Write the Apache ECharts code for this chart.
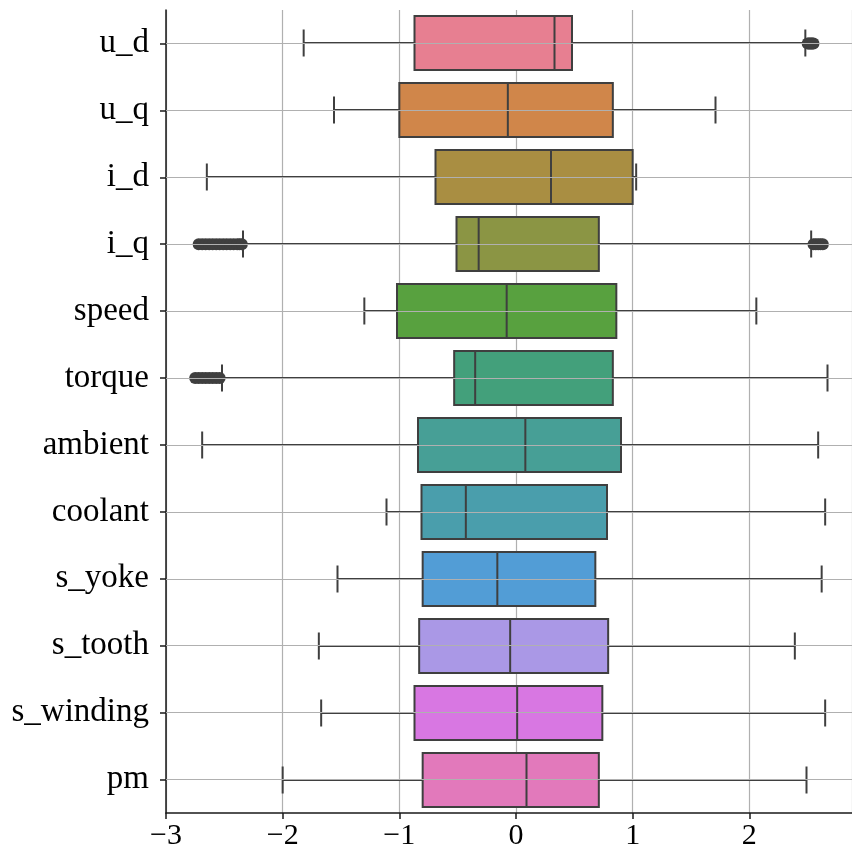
<!DOCTYPE html>
<html><head><meta charset="utf-8">
<script src="https://cdn.jsdelivr.net/npm/echarts@6/dist/echarts.min.js"></script>
<style>html,body{margin:0;padding:0;background:#fff}#c{width:852px;height:855px}</style>
</head><body><div id="c"></div>
<script>
const categories = ['u_d','u_q','i_d','i_q','speed','torque','ambient','coolant','s_yoke','s_tooth','s_winding','pm'];
const whiskerLow  = [-1.82, -1.56, -2.65, -2.34, -1.30, -2.52, -2.69, -1.11, -1.53, -1.69, -1.67, -2.00];
const q1          = [-0.87, -1.00, -0.69, -0.51, -1.02, -0.53, -0.84, -0.81, -0.80, -0.83, -0.87, -0.80];
const median      = [ 0.33, -0.07,  0.30, -0.32, -0.08, -0.35,  0.08, -0.43, -0.16, -0.05,  0.01,  0.09];
const q3          = [ 0.48,  0.83,  1.00,  0.71,  0.86,  0.83,  0.90,  0.78,  0.68,  0.79,  0.74,  0.71];
const whiskerHigh = [ 2.48,  1.71,  1.03,  2.53,  2.06,  2.67,  2.59,  2.65,  2.62,  2.39,  2.65,  2.49];
const outlierCategory = ['u_d','u_d','u_d','u_d','u_d','u_d',
  'i_q','i_q','i_q','i_q','i_q','i_q','i_q','i_q','i_q','i_q','i_q','i_q','i_q','i_q',
  'i_q','i_q','i_q','i_q','i_q',
  'torque','torque','torque','torque','torque','torque','torque','torque'];
const outlierValue = [2.50, 2.51, 2.52, 2.53, 2.54, 2.55,
  -2.72, -2.69, -2.66, -2.63, -2.60, -2.57, -2.54, -2.51, -2.48, -2.45, -2.42, -2.39, -2.37, -2.35,
  2.55, 2.57, 2.59, 2.61, 2.63,
  -2.75, -2.72, -2.69, -2.66, -2.63, -2.60, -2.57, -2.54];
const xTicks = [-3, -2, -1, 0, 1, 2];
const palette = ['#e77f91','#d0864a','#a98e42','#8b9544','#58a13f','#43a07b','#479f96','#4a9eac','#529dd6','#aa98e6','#d877e2','#e279bb'];

const LINE = '#3f3f3f';
const FONT = 'Liberation Serif';
const boxData = categories.map((c, i) => [i, whiskerLow[i], q1[i], median[i], q3[i], whiskerHigh[i]]);
const outlierData = outlierValue.map((v, i) => [v, outlierCategory[i]]);

const chart = echarts.init(document.getElementById('c'), null, {renderer: 'canvas'});
chart.setOption({
  animation: false,
  backgroundColor: '#fff',
  grid: {left: 166, top: 10, right: 0, bottom: 42, containLabel: false, outerBoundsMode: 'none'},
  xAxis: {
    type: 'value', min: -3, max: 2.88, interval: 1,
    axisLine: {show: true, onZero: false, lineStyle: {color: '#1a1a1a', width: 1.5}},
    axisTick: {show: true, length: 6, lineStyle: {color: '#1a1a1a', width: 1.5}},
    axisLabel: {
      show: true, margin: 8, color: '#000', fontFamily: FONT, fontSize: 30, showMaxLabel: false,
      formatter: v => xTicks.indexOf(v) >= 0 ? String(v).replace('-', '\u2212') : ''
    },
    splitLine: {show: true, lineStyle: {color: '#b0b0b0', width: 1.2}}
  },
  yAxis: {
    type: 'category', data: categories, inverse: true,
    axisLine: {show: true, onZero: false, lineStyle: {color: '#1a1a1a', width: 1.5}},
    axisTick: {show: true, alignWithLabel: true, length: 6, lineStyle: {color: '#1a1a1a', width: 1.5}},
    axisLabel: {show: true, margin: 17, color: '#000', fontFamily: FONT, fontSize: 33},
    splitLine: {show: false}
  },
  series: [
    {
      type: 'line', data: [], z: 1, silent: true,
      markLine: {
        silent: true, symbol: ['none', 'none'], label: {show: false}, animation: false,
        lineStyle: {color: '#b0b0b0', type: 'solid', width: 1.2},
        data: categories.map(c => ({yAxis: c}))
      }
    },
    {
      type: 'custom', z: 2,
      data: boxData,
      encode: {x: [1, 2, 3, 4, 5], y: 0},
      renderItem: function (params, api) {
        const ci = api.value(0);
        const band = api.size([0, 1])[1];
        const h = Math.round(band * 0.8);
        const P = v => api.coord([v, ci]);
        const pl = P(api.value(1)), pa = P(api.value(2)), pm = P(api.value(3)), pb = P(api.value(4)), ph = P(api.value(5));
        const y = Math.round(pa[1]);
        const ls = {stroke: LINE, lineWidth: 2};
        const cap = h / 4;
        return {
          type: 'group',
          children: [
            {type: 'line', shape: {x1: pl[0], y1: y, x2: pa[0], y2: y}, style: ls},
            {type: 'line', shape: {x1: pb[0], y1: y, x2: ph[0], y2: y}, style: ls},
            {type: 'line', shape: {x1: pl[0], y1: y - cap, x2: pl[0], y2: y + cap}, style: ls},
            {type: 'line', shape: {x1: ph[0], y1: y - cap, x2: ph[0], y2: y + cap}, style: ls},
            {type: 'rect', shape: {x: pa[0], y: y - h / 2, width: pb[0] - pa[0], height: h},
              style: {fill: palette[ci], stroke: LINE, lineWidth: 2}},
            {type: 'line', shape: {x1: pm[0], y1: y - h / 2, x2: pm[0], y2: y + h / 2}, style: ls}
          ]
        };
      }
    },
    {
      type: 'scatter', z: 3, data: outlierData, symbol: 'circle', symbolSize: 12,
      itemStyle: {color: LINE, opacity: 1}
    }
  ]
});
</script>
</body></html>
